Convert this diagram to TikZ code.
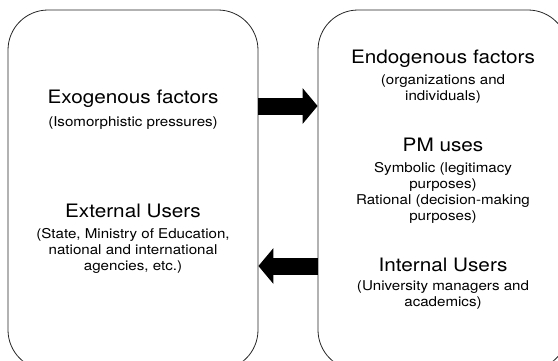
\documentclass[tikz,border=0pt]{standalone}
\usepackage{fontspec}
\setmainfont{TeX Gyre Heros}[FakeStretch=1.12]
\usetikzlibrary{arrows.meta}

\begin{document}
\begin{tikzpicture}[x=1pt,y=-1pt,
  frame/.style={draw=black!85,line width=0.8pt,rounded corners=40pt,minimum width=250pt,minimum height=360pt},
  head/.style={font=\fontsize{18.5}{22}\selectfont,inner sep=0pt},
  sub/.style={font=\fontsize{13.5}{16}\selectfont,align=center,inner sep=0pt},
  push/.style={line width=17pt,-{Triangle[length=15pt,width=35pt]}}]
\useasboundingbox (0,0) rectangle (558,360);
\clip (0,0) rectangle (558,360);
\node[frame] (outside) at (133,190) {};
\node[frame] (inside) at (443,190) {};
\node[head] (exo) at (133,99) {Exogenous factors};
\node[sub] (exosub) at (133,123) {(Isomorphistic pressures)};
\node[head] (extusers) at (133,211) {External Users};
\node[sub] (extsub) at (133,251) {(State, Ministry of Education,\\national and international\\agencies, etc.)};
\node[head] (endo) at (443,59) {Endogenous factors};
\node[sub] (endosub) at (443,89) {(organizations and\\individuals)};
\node[head] (pmuses) at (443,145) {PM uses};
\node[sub] (pmsub) at (443,193) {Symbolic (legitimacy\\purposes)\\Rational (decision-making\\purposes)};
\node[head] (intusers) at (443,265) {Internal Users};
\node[sub] (intsub) at (443,295) {(University managers and\\academics)};
\draw[push] (outside.east |- 0,106) -- (inside.west |- 0,106);
\draw[push] (inside.west |- 0,266) -- (outside.east |- 0,266);
\end{tikzpicture}
\end{document}
